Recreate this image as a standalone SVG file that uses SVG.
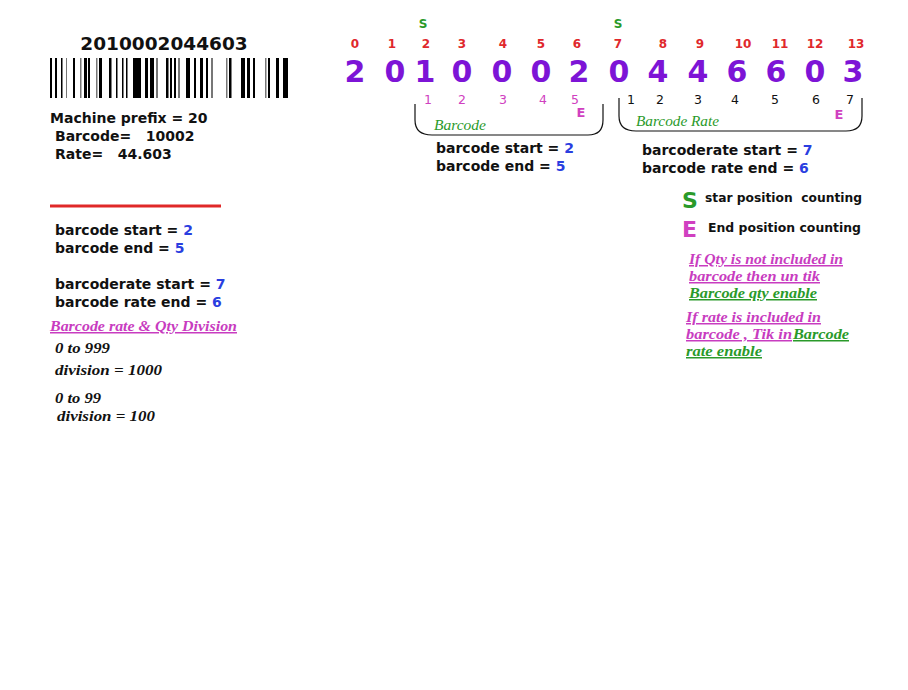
<svg xmlns="http://www.w3.org/2000/svg" width="908" height="690" viewBox="0 0 908 690">
<style>
.b{font-family:"DejaVu Sans",Verdana,sans-serif;font-weight:bold;font-size:14px;fill:#111}
.blu{fill:#2a3ee0}
.big{font-family:"DejaVu Sans",Verdana,sans-serif;font-weight:bold;font-size:30px;fill:#7d14d6;text-anchor:middle}
.idx{font-family:"DejaVu Sans",Verdana,sans-serif;font-weight:bold;font-size:12px;fill:#e0282c;text-anchor:middle}
.s{font-family:"DejaVu Sans",Verdana,sans-serif;font-weight:bold;font-size:12px;fill:#2a9a2a;text-anchor:middle}
.mg{font-family:"DejaVu Sans",Verdana,sans-serif;font-size:12.5px;fill:#d040c0;text-anchor:middle}
.bk{font-family:"DejaVu Sans",Verdana,sans-serif;font-size:12.5px;fill:#111;text-anchor:middle}
.e{font-family:"DejaVu Sans",Verdana,sans-serif;font-weight:bold;font-size:13px;fill:#d040c0;text-anchor:middle}
.gi{font-family:"Liberation Serif",serif;font-style:italic;font-size:15px;fill:#2a9a2a}
.it{font-family:"Liberation Serif",serif;font-style:italic;font-weight:bold;font-size:15px;fill:#111}
.um{font-family:"Liberation Serif",serif;font-style:italic;font-weight:bold;font-size:15px;fill:#c83cc0;text-decoration:underline}
.ug{font-family:"Liberation Serif",serif;font-style:italic;font-weight:bold;font-size:15px;fill:#2a9a2a;text-decoration:underline}
.br{fill:none;stroke:#111;stroke-width:1.2}
.bar{fill:#000}
.gbar{fill:#777}
</style>
<rect width="908" height="690" fill="#fff"/>
<g id="barcode">
<text x="164" y="50" font-family="DejaVu Sans,Verdana,sans-serif" font-weight="bold" font-size="18.5" fill="#111" text-anchor="middle">2010002044603</text>
<rect class="bar" x="50" y="58" width="2" height="40"/>
<rect class="bar" x="55" y="58" width="2" height="40"/>
<rect class="bar" x="61" y="58" width="1.5" height="40"/>
<rect class="gbar" x="66" y="58" width="1" height="40"/>
<rect class="bar" x="73" y="58" width="2" height="40"/>
<rect class="gbar" x="80" y="58" width="1.5" height="40"/>
<rect class="bar" x="84" y="58" width="3" height="40"/>
<rect class="bar" x="88" y="58" width="2" height="40"/>
<rect class="gbar" x="96" y="58" width="1.5" height="40"/>
<rect class="bar" x="99" y="58" width="3" height="40"/>
<rect class="bar" x="109" y="58" width="2.5" height="40"/>
<rect class="bar" x="116" y="58" width="1.5" height="40"/>
<rect class="bar" x="122" y="58" width="1.5" height="40"/>
<rect class="bar" x="126" y="58" width="1.5" height="40"/>
<rect class="bar" x="133" y="58" width="8" height="40"/>
<rect class="bar" x="145" y="58" width="3" height="40"/>
<rect class="bar" x="150" y="58" width="4" height="40"/>
<rect class="gbar" x="156" y="58" width="2" height="40"/>
<rect class="bar" x="166" y="58" width="2.5" height="40"/>
<rect class="bar" x="170" y="58" width="2" height="40"/>
<rect class="bar" x="174" y="58" width="2" height="40"/>
<rect class="gbar" x="178" y="58" width="2" height="40"/>
<rect class="bar" x="186" y="58" width="4" height="40"/>
<rect class="bar" x="194" y="58" width="2" height="40"/>
<rect class="bar" x="200" y="58" width="3" height="40"/>
<rect class="bar" x="206" y="58" width="2" height="40"/>
<rect class="gbar" x="211" y="58" width="2" height="40"/>
<rect class="gbar" x="226" y="58" width="1.5" height="40"/>
<rect class="bar" x="229" y="58" width="2.5" height="40"/>
<rect class="bar" x="241" y="58" width="4" height="40"/>
<rect class="bar" x="247" y="58" width="3" height="40"/>
<rect class="bar" x="253" y="58" width="2" height="40"/>
<rect class="gbar" x="265" y="58" width="1.5" height="40"/>
<rect class="bar" x="268" y="58" width="2" height="40"/>
<rect class="bar" x="276" y="58" width="3" height="40"/>
<rect class="bar" x="283" y="58" width="5" height="40"/>
</g>
<g id="info">
<text class="b" x="50" y="123">Machine prefix = 20</text>
<text class="b" x="55" y="141" xml:space="preserve">Barcode=   10002</text>
<text class="b" x="55" y="159" xml:space="preserve">Rate=   44.603</text>
</g>
<g id="digits">
<text class="s" x="423" y="28">S</text>
<text class="s" x="618" y="28">S</text>
<text class="idx" x="355" y="48">0</text>
<text class="idx" x="392" y="48">1</text>
<text class="idx" x="426" y="48">2</text>
<text class="idx" x="462" y="48">3</text>
<text class="idx" x="503" y="48">4</text>
<text class="idx" x="541" y="48">5</text>
<text class="idx" x="577" y="48">6</text>
<text class="idx" x="618" y="48">7</text>
<text class="idx" x="663" y="48">8</text>
<text class="idx" x="700" y="48">9</text>
<text class="idx" x="743" y="48">10</text>
<text class="idx" x="780" y="48">11</text>
<text class="idx" x="815" y="48">12</text>
<text class="idx" x="856" y="48">13</text>
<text class="big" x="355" y="82">2</text>
<text class="big" x="395" y="82">0</text>
<text class="big" x="425" y="82">1</text>
<text class="big" x="462" y="82">0</text>
<text class="big" x="502" y="82">0</text>
<text class="big" x="541" y="82">0</text>
<text class="big" x="579" y="82">2</text>
<text class="big" x="619" y="82">0</text>
<text class="big" x="658" y="82">4</text>
<text class="big" x="698" y="82">4</text>
<text class="big" x="737" y="82">6</text>
<text class="big" x="776" y="82">6</text>
<text class="big" x="815" y="82">0</text>
<text class="big" x="853" y="82">3</text>
<text class="mg" x="428" y="104">1</text>
<text class="mg" x="462" y="104">2</text>
<text class="mg" x="503" y="104">3</text>
<text class="mg" x="543" y="104">4</text>
<text class="mg" x="575" y="104">5</text>
<text class="e" x="581" y="117">E</text>
<text class="bk" x="631" y="104">1</text>
<text class="bk" x="660" y="104">2</text>
<text class="bk" x="698" y="104">3</text>
<text class="bk" x="735" y="104">4</text>
<text class="bk" x="775" y="104">5</text>
<text class="bk" x="816" y="104">6</text>
<text class="bk" x="850" y="104">7</text>
<text class="e" x="839" y="119">E</text>
</g>
<g id="connectors">
<path class="br" d="M415,104 V120 Q415,135 432,135 H588 Q603,135 603,120 V104"/>
<path class="br" d="M619,98 V116 Q619,131 636,131 H846 Q862,131 862,116 V98"/>
<line x1="50" y1="206" x2="221" y2="206" stroke="#e02828" stroke-width="3"/>
</g>
<g id="barcode-group">
<text class="gi" x="434" y="130" textLength="52" lengthAdjust="spacingAndGlyphs">Barcode</text>
<text class="b" x="436" y="153">barcode start = <tspan class="blu">2</tspan></text>
<text class="b" x="436" y="171">barcode end = <tspan class="blu">5</tspan></text>
</g>
<g id="rate-group">
<text class="gi" x="636" y="126" textLength="83" lengthAdjust="spacingAndGlyphs">Barcode Rate</text>
<text class="b" x="642" y="155">barcoderate start = <tspan class="blu">7</tspan></text>
<text class="b" x="642" y="173">barcode rate end = <tspan class="blu">6</tspan></text>
</g>
<g id="left-settings">
<text class="b" x="55" y="235">barcode start = <tspan class="blu">2</tspan></text>
<text class="b" x="55" y="253">barcode end = <tspan class="blu">5</tspan></text>
<text class="b" x="55" y="289">barcoderate start = <tspan class="blu">7</tspan></text>
<text class="b" x="55" y="307">barcode rate end = <tspan class="blu">6</tspan></text>
</g>
<g id="division">
<text class="um" x="50" y="331" textLength="187" lengthAdjust="spacingAndGlyphs">Barcode rate &amp; Qty Division</text>
<text class="it" x="55" y="353" textLength="55" lengthAdjust="spacingAndGlyphs">0 to 999</text>
<text class="it" x="55" y="375" textLength="107" lengthAdjust="spacingAndGlyphs">division = 1000</text>
<text class="it" x="55" y="403" textLength="46" lengthAdjust="spacingAndGlyphs">0 to 99</text>
<text class="it" x="57" y="421" textLength="98" lengthAdjust="spacingAndGlyphs">division = 100</text>
</g>
<g id="legend">
<text x="682" y="208" font-family="DejaVu Sans,Verdana,sans-serif" font-weight="bold" font-size="22" fill="#2a9a2a">S</text>
<text x="705" y="202" font-family="DejaVu Sans,Verdana,sans-serif" font-weight="bold" font-size="11.5" fill="#111" xml:space="preserve" textLength="157" lengthAdjust="spacingAndGlyphs">star position  counting</text>
<text x="682" y="237" font-family="DejaVu Sans,Verdana,sans-serif" font-weight="bold" font-size="22" fill="#d040c0">E</text>
<text x="708" y="232" font-family="DejaVu Sans,Verdana,sans-serif" font-weight="bold" font-size="12" fill="#111" textLength="153" lengthAdjust="spacingAndGlyphs">End position counting</text>
</g>
<g id="notes">
<text class="um" x="689" y="264" textLength="154" lengthAdjust="spacingAndGlyphs">If Qty is not included in</text>
<text class="um" x="689" y="281" textLength="131" lengthAdjust="spacingAndGlyphs">barcode then un tik</text>
<text class="ug" x="689" y="298" textLength="128" lengthAdjust="spacingAndGlyphs">Barcode qty enable</text>
<text class="um" x="686" y="322" textLength="135" lengthAdjust="spacingAndGlyphs">If rate is included in</text>
<text x="686" y="339"><tspan class="um" textLength="106" lengthAdjust="spacingAndGlyphs">barcode , Tik in</tspan><tspan class="ug" x="793" textLength="56" lengthAdjust="spacingAndGlyphs">Barcode</tspan></text>
<text class="ug" x="686" y="356" textLength="76" lengthAdjust="spacingAndGlyphs">rate enable</text>
</g>
</svg>
